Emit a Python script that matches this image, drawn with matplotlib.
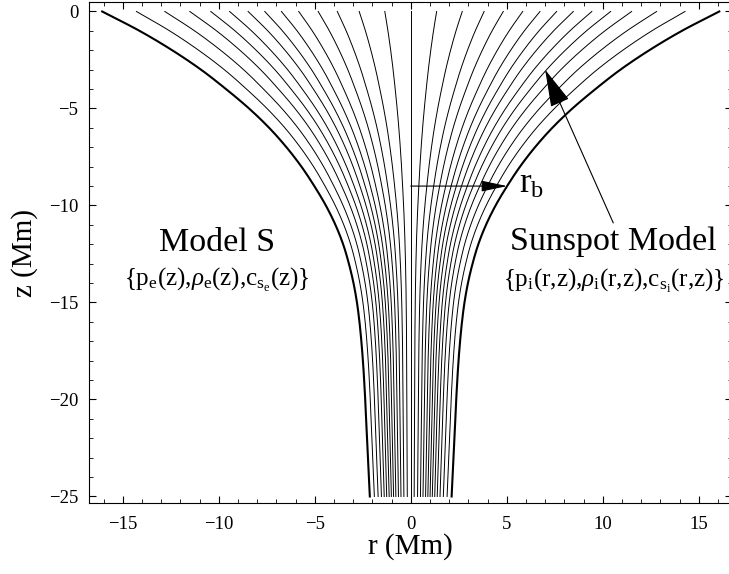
import numpy as np
import matplotlib
matplotlib.use("Agg")
import matplotlib.pyplot as plt
from matplotlib.ticker import MultipleLocator

plt.rcParams['font.family'] = ['Liberation Serif', 'DejaVu Serif']
plt.rcParams['mathtext.fontset'] = 'custom'
plt.rcParams['mathtext.rm'] = 'Liberation Serif'
plt.rcParams['mathtext.it'] = 'Liberation Serif:italic'
plt.rcParams['mathtext.bf'] = 'Liberation Serif:bold'

# Flux-tube boundary r_b(z) (Mm)
boundary_z = [0, -1, -2, -3, -4, -5, -6, -7, -8, -9, -10, -11, -12, -13, -14,
              -15, -16, -17, -18, -20, -22, -25]
boundary_r = [16.07, 14.12, 12.42, 10.92, 9.62, 8.42, 7.37, 6.47, 5.69, 5.02,
              4.42, 3.92, 3.52, 3.22, 2.98, 2.80, 2.67, 2.57, 2.49, 2.37, 2.28, 2.13]
# Field-line positions as fractions of r_b (read at z = 0)
line_fraction = [0.0, 0.084, 0.167, 0.238, 0.300, 0.363, 0.419, 0.473, 0.527,
                 0.587, 0.648, 0.716, 0.797, 0.889]
rb_arrow_z = -9.0

# smooth interpolation of the read boundary (cubic Hermite)
bz = np.array(boundary_z[::-1], float)
br = np.array(boundary_r[::-1], float)
slopes = np.gradient(br, bz)
z = np.linspace(-25, 0, 600)
idx = np.clip(np.searchsorted(bz, z) - 1, 0, len(bz) - 2)
h = bz[idx + 1] - bz[idx]
t = (z - bz[idx]) / h
h00 = 2 * t**3 - 3 * t**2 + 1
h10 = t**3 - 2 * t**2 + t
h01 = -2 * t**3 + 3 * t**2
h11 = t**3 - t**2
rb = h00 * br[idx] + h10 * h * slopes[idx] + h01 * br[idx + 1] + h11 * h * slopes[idx + 1]

fig = plt.figure(figsize=(7.29, 5.74), dpi=100)
ax = fig.add_axes([0.1225, 0.1232, 0.8818, 0.8737])

for f in line_fraction:
    if f == 0:
        ax.plot(np.zeros_like(z), z, color='black', lw=0.7)
    else:
        ax.plot(f * rb, z, color='black', lw=0.7)
        ax.plot(-f * rb, z, color='black', lw=0.7)
ax.plot(rb, z, color='black', lw=1.5)
ax.plot(-rb, z, color='black', lw=1.5)

rb_at = np.interp(rb_arrow_z, z, rb)
ax.annotate('', xy=(rb_at, rb_arrow_z), xytext=(0, rb_arrow_z),
            arrowprops=dict(arrowstyle='-|>,head_length=1.6,head_width=0.34',
                            lw=0.8, color='black', shrinkA=0, shrinkB=0,
                            mutation_scale=10))
ax.text(rb_at + 0.6, rb_arrow_z + 0.1, r'$\mathrm{r_b}$', fontsize=25,
        ha='left', va='center')

ax.annotate('', xy=(7.0, -3.0), xytext=(10.55, -10.9),
            arrowprops=dict(arrowstyle='-|>,head_length=2.4,head_width=0.63',
                            lw=0.8, color='black', shrinkA=0, shrinkB=0,
                            mutation_scale=10))

ax.text(-10.1, -11.94, 'Model S', fontsize=24.5, ha='center', va='center')
ax.text(-10.1, -13.85, r'{p$_\mathrm{e}$(z),$\rho_\mathrm{e}$(z),c$_{\mathrm{s_e}}$(z)}',
        fontsize=18, ha='center', va='center')
ax.text(10.55, -11.86, 'Sunspot Model', fontsize=24.5, ha='center', va='center')
ax.text(10.55, -13.9, r'{p$_\mathrm{i}$(r,z),$\rho_\mathrm{i}$(r,z),c$_{\mathrm{s_i}}$(r,z)}',
        fontsize=18, ha='center', va='center')

ax.set_xlim(-16.74, 16.74)
ax.set_ylim(-25.35, 0.5)
ax.xaxis.set_major_locator(MultipleLocator(5))
ax.xaxis.set_minor_locator(MultipleLocator(1))
ax.yaxis.set_major_locator(MultipleLocator(5))
ax.yaxis.set_minor_locator(MultipleLocator(1))
ax.tick_params(which='both', direction='in', top=True, right=True, labelsize=13.5)
ax.tick_params(which='major', length=5, width=0.8)
ax.tick_params(which='minor', length=3, width=0.6)
ax.tick_params(axis='x', pad=9)
ax.tick_params(axis='y', pad=8)
ax.set_xlabel('r (Mm)', fontsize=21, labelpad=0)
ax.set_ylabel('z (Mm)', fontsize=21, labelpad=8)

fig.savefig('out.png', dpi=100)
